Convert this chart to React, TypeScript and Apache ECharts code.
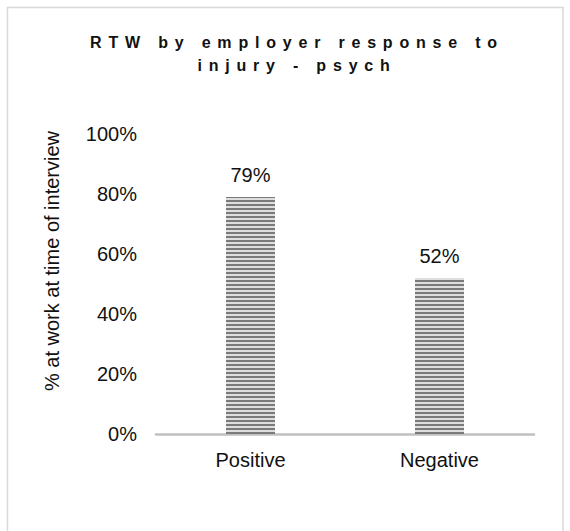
import React, { useEffect, useRef } from "react";
import * as echarts from "echarts";

const titleLines = ["RTW by employer response to", "injury - psych"];
const categories = ["Positive", "Negative"];
const values = [0.79, 0.52];
const yAxisTitle = "% at work at time of interview";
const yMin = 0;
const yMax = 1;
const yInterval = 0.2;

const FONT = "Liberation Sans, Arial, Helvetica, sans-serif";

export default function App() {
  const ref = useRef<HTMLDivElement>(null);
  useEffect(() => {
    if (!ref.current) return;
    const chart = echarts.init(ref.current, null, { renderer: "svg" });
    const titleStyle = (text: string) => ({
      text,
      fill: "#111111",
      fontSize: 16,
      fontWeight: 700,
      fontFamily: FONT,
      textAlign: "center",
      textVerticalAlign: "middle",
    });
    chart.setOption({
      animation: false,
      backgroundColor: "#ffffff",
      grid: { left: 156, right: 36, top: 134, bottom: 97, containLabel: false },
      graphic: [
        {
          type: "rect",
          shape: { x: 7.5, y: 7.5, width: 555.5, height: 540 },
          style: { fill: "none", stroke: "#d9d9d9", lineWidth: 1.5 },
          silent: true,
        },
        { type: "text", x: 297, y: 42, style: titleStyle(titleLines[0]) },
        { type: "text", x: 297, y: 65, style: titleStyle(titleLines[1]) },
        {
          type: "text",
          x: 52,
          y: 261,
          rotation: Math.PI / 2,
          style: {
            text: yAxisTitle,
            fill: "#111111",
            fontSize: 20,
            fontFamily: FONT,
            textAlign: "center",
            textVerticalAlign: "middle",
          },
        },
      ],
      xAxis: {
        type: "category",
        data: categories,
        axisLine: { show: true, lineStyle: { color: "#c0c0c0", width: 2.5 } },
        axisTick: { show: false },
        axisLabel: {
          color: "#111111",
          fontSize: 20,
          fontFamily: FONT,
          margin: 16,
        },
        splitLine: { show: false },
      },
      yAxis: {
        type: "value",
        min: yMin,
        max: yMax,
        interval: yInterval,
        axisLine: { show: false },
        axisTick: { show: false },
        splitLine: { show: false },
        axisLabel: {
          color: "#111111",
          fontSize: 20,
          fontFamily: FONT,
          margin: 19,
          formatter: (v: number) => `${Math.round(v * 100)}%`,
        },
      },
      series: [
        {
          type: "bar",
          data: values,
          barWidth: 49,
          itemStyle: {
            color: "#dedede",
            decal: {
              symbol: "rect",
              symbolSize: 1,
              color: "#7a7a7a",
              dashArrayX: [1, 0],
              dashArrayY: [2, 2],
              rotation: 0,
            },
          },
          label: {
            show: true,
            position: "top",
            distance: 12,
            color: "#111111",
            fontSize: 20,
            fontFamily: FONT,
            formatter: (p: any) => `${Math.round(p.value * 100)}%`,
          },
        },
      ],
    });
    const applySpacing = () => {
      const dom = ref.current;
      if (!dom) return;
      dom.querySelectorAll("text").forEach((t) => {
        if (titleLines.includes((t.textContent || "").trim())) {
          t.setAttribute("letter-spacing", "6.8px");
        }
      });
    };
    applySpacing();
    const timer = setTimeout(applySpacing, 50);
    return () => {
      clearTimeout(timer);
      chart.dispose();
    };
  }, []);
  return (
    <div
      ref={ref}
      style={{ position: "fixed", left: 0, top: 0, width: 570, height: 531 }}
    />
  );
}
